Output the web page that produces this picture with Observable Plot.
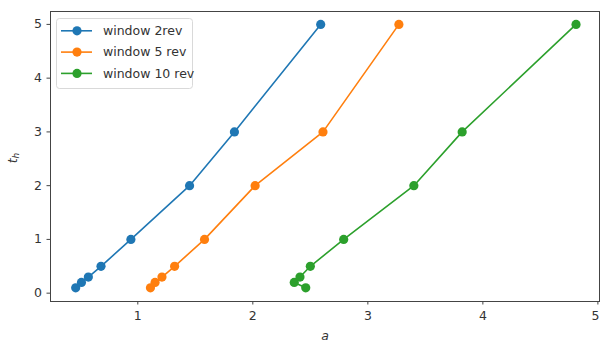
<!DOCTYPE html>
<html><head><meta charset="utf-8">
<script src="https://cdn.jsdelivr.net/npm/d3@7"></script>
<script src="https://cdn.jsdelivr.net/npm/@observablehq/plot@0.6"></script>
<style>
body{margin:0;background:#fff;}
#chart{position:relative;width:600px;height:343px;overflow:hidden;}
</style></head>
<body><div id="chart"></div>
<script>
const seriesNames = ["window 2rev", "window 5 rev", "window 10 rev"];
const seriesColors = ["#1f77b4", "#ff7f0e", "#2ca02c"];
const thValues = [0.1, 0.2, 0.3, 0.5, 1, 2, 3, 5];
const aWindow2 = [0.46, 0.51, 0.57, 0.68, 0.94, 1.45, 1.84, 2.59];
const aWindow5 = [1.11, 1.15, 1.21, 1.32, 1.58, 2.02, 2.61, 3.27];
const aWindow10 = [2.46, 2.36, 2.41, 2.50, 2.79, 3.40, 3.82, 4.81];
const xTicks = [1, 2, 3, 4, 5];
const yTicks = [0, 1, 2, 3, 4, 5];

const allA = [aWindow2, aWindow5, aWindow10];
const data = [];
seriesNames.forEach((s, i) => thValues.forEach((t, j) => data.push({series: s, a: allA[i][j], th: t, order: j})));

const W = 600, H = 343;
const mL = 50, mR = 1, mT = 11, mB = 42;
const font = "DejaVu Sans, sans-serif";
const fs = 12.5;

const plot = Plot.plot({
  width: W, height: H,
  marginLeft: mL, marginRight: mR, marginTop: mT, marginBottom: mB,
  style: {fontFamily: font, fontSize: fs + "px", color: "#333", background: "#fff"},
  x: {domain: [0.241, 5.014], ticks: xTicks, tickFormat: d3.format("d"), tickSize: 3.5, tickPadding: 6, label: null},
  y: {domain: [-0.155, 5.24], ticks: yTicks, tickFormat: d3.format("d"), tickSize: 3.5, tickPadding: 5, label: null},
  color: {domain: seriesNames, range: seriesColors},
  marks: [
    Plot.line(data, {x: "a", y: "th", z: "series", stroke: "series", strokeWidth: 1.6, sort: "order"}),
    Plot.dot(data, {x: "a", y: "th", fill: "series", r: 4.6}),
    Plot.frame({stroke: "#444", strokeWidth: 1})
  ]
});
document.getElementById("chart").appendChild(plot);

const svg = d3.select(plot);
svg.selectAll("text").attr("fill", "#333");
svg.selectAll("[aria-label='x-axis tick'] path, [aria-label='y-axis tick'] path").attr("stroke", "#444");
// keep any tick label inside the window
const svgBox = plot.getBoundingClientRect();
svg.selectAll("text").each(function () {
  const b = this.getBoundingClientRect();
  const over = b.right - svgBox.left - (W - 0.5);
  if (over > 0) d3.select(this).attr("dx", -over);
});

// axis labels
svg.append("text").attr("x", 325).attr("y", 340).attr("text-anchor", "middle")
  .attr("font-family", font).attr("font-size", fs).attr("font-style", "italic").attr("fill", "#333").text("a");
const yl = svg.append("text").attr("transform", "translate(17,158) rotate(-90)").attr("text-anchor", "middle")
  .attr("font-family", font).attr("font-size", fs).attr("font-style", "italic").attr("fill", "#333");
yl.append("tspan").text("t");
yl.append("tspan").attr("font-size", 9).attr("dy", 2).text("h");

// legend
const lg = svg.append("g").attr("text-anchor", "start");
lg.append("rect").attr("x", 56.5).attr("y", 18.5).attr("width", 136).attr("height", 70).attr("rx", 3)
  .attr("fill", "#fff").attr("fill-opacity", 0.8).attr("stroke", "#d9d9d9");
seriesNames.forEach((s, i) => {
  const y = 30.8 + i * 21.3;
  lg.append("line").attr("x1", 61).attr("x2", 92).attr("y1", y).attr("y2", y).attr("stroke", seriesColors[i]).attr("stroke-width", 1.6);
  lg.append("circle").attr("cx", 77).attr("cy", y).attr("r", 4.6).attr("fill", seriesColors[i]);
  lg.append("text").attr("x", 103).attr("y", y).attr("dy", "0.35em").attr("text-anchor", "start")
    .attr("font-family", font).attr("font-size", fs).attr("fill", "#333").text(s);
});
</script></body></html>
